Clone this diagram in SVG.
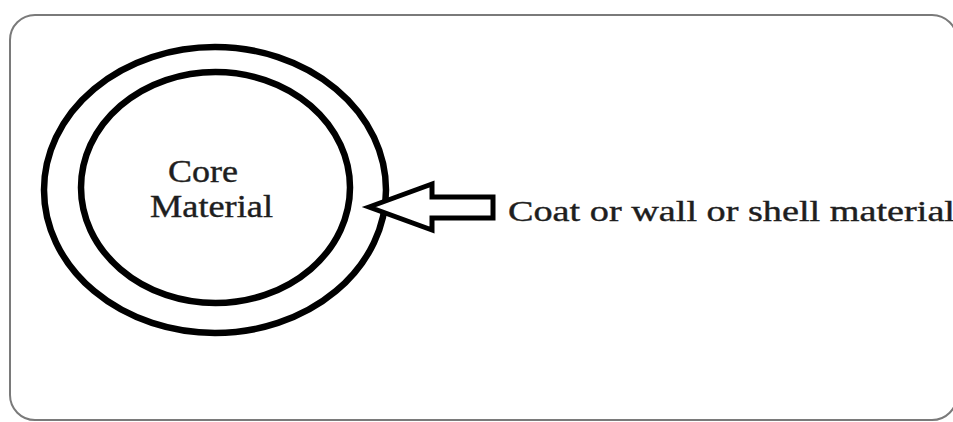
<svg xmlns="http://www.w3.org/2000/svg" width="953" height="422" viewBox="0 0 953 422">
  <style>
    .frame { fill: #ffffff; stroke: #7a7a7a; stroke-width: 2; }
    .ring { fill: none; stroke: #000000; stroke-width: 6.5; }
    .pointer { fill: #ffffff; stroke: #000000; stroke-width: 5; stroke-linejoin: miter; }
    .label { font-family: "Liberation Serif", "Times New Roman", serif; fill: #1e1e1e; stroke: #1e1e1e; stroke-width: 0.4; }
  </style>
  <rect width="953" height="422" fill="#ffffff"/>
  <!-- outer frame, its right side runs just past the canvas edge -->
  <rect class="frame" x="10" y="15" width="947" height="405" rx="25" ry="25"/>

  <!-- capsule: shell wall around the core -->
  <g id="capsule">
    <ellipse class="ring" cx="215" cy="190" rx="171" ry="143"/>
    <ellipse class="ring" cx="215.5" cy="187.5" rx="134.5" ry="115.5"/>
    <text class="label" font-size="31" x="168" y="182" textLength="70" lengthAdjust="spacingAndGlyphs">Core</text>
    <text class="label" font-size="31" x="150" y="217" textLength="123" lengthAdjust="spacingAndGlyphs">Material</text>
  </g>

  <!-- block arrow pointing at the shell -->
  <g id="connectors">
    <polygon class="pointer" points="369,207 432,184 432,197 493,197 493,218 432,218 432,230"/>
  </g>

  <g id="shell-label">
    <text class="label" font-size="29" x="508" y="221" textLength="447" lengthAdjust="spacingAndGlyphs">Coat or wall or shell material</text>
  </g>
</svg>
